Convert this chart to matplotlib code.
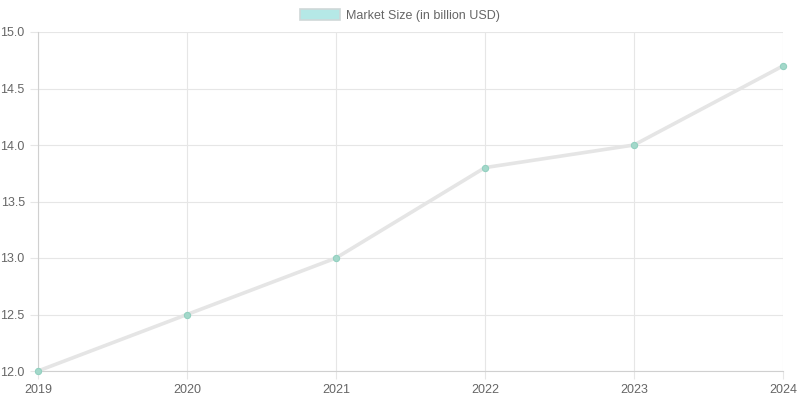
import matplotlib
matplotlib.use("Agg")
import matplotlib.pyplot as plt
from matplotlib.patches import Patch

plt.rcParams['font.family'] = ['Liberation Sans', 'DejaVu Sans']

years = ["2019", "2020", "2021", "2022", "2023", "2024"]
market_size = [12.0, 12.5, 13.0, 13.8, 14.0, 14.7]
y_ticks = [12.0, 12.5, 13.0, 13.5, 14.0, 14.5, 15.0]

fig = plt.figure(figsize=(8, 4), dpi=100)
ax = fig.add_axes([38 / 800, 1 - 371 / 400, 745 / 800, 339 / 400])

x = range(len(years))
ax.plot(x, market_size, color="#e5e5e5", lw=2.6, solid_capstyle="round", zorder=3, clip_on=False)
ax.scatter(x, market_size, s=20, color="#a3d8ca", edgecolors="#93d0c0", lw=0.8, zorder=4, clip_on=False)

ax.set_xlim(0, len(years) - 1)
ax.set_ylim(12.0, 15.0)
ax.set_xticks(list(x))
ax.set_xticklabels(years)
ax.set_yticks(y_ticks)
ax.set_yticklabels([f"{v:.1f}" for v in y_ticks])

ax.grid(True, color="#e6e6e6", lw=0.8)
ax.set_axisbelow(True)
for side in ["top", "right"]:
    ax.spines[side].set_visible(False)
for side in ["left", "bottom"]:
    ax.spines[side].set_color("#d0d0d0")
    ax.spines[side].set_linewidth(0.8)
ax.tick_params(colors="#666666", labelsize=9, length=6, width=0.8)
ax.tick_params(axis="both", color="#e6e6e6")

handle = Patch(facecolor="#b5e8e6", edgecolor="#cfd8d8", lw=1.2, label="Market Size (in billion USD)")
fig.legend(handles=[handle], loc="upper center", bbox_to_anchor=(0.5, 1.005), frameon=False,
           fontsize=9, labelcolor="#666666", handlelength=3.2, handleheight=1.0, handletextpad=0.5)

fig.savefig("out.png", dpi=100)
